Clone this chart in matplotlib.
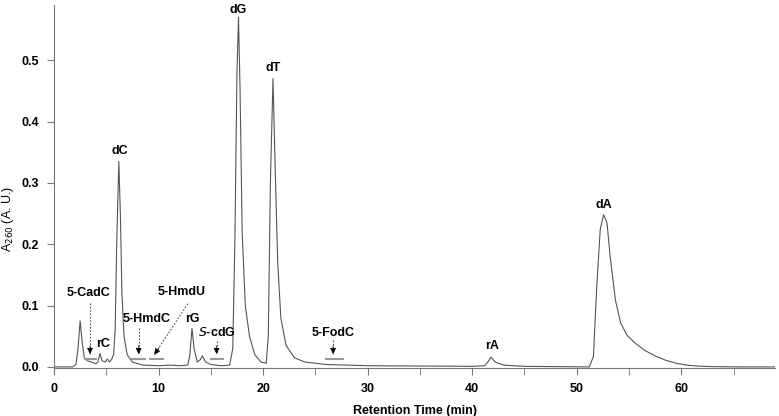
import matplotlib
matplotlib.use("Agg")
import matplotlib.pyplot as plt
from matplotlib.ticker import MultipleLocator

plt.rcParams['font.family'] = ['Liberation Sans', 'DejaVu Sans']

# chromatogram trace (time in min, A260)
time = [0, 1.8, 2.1, 2.3, 2.5, 2.7, 2.9, 3.2, 3.6, 4.0, 4.2, 4.4, 4.6, 4.9, 5.1,
        5.3, 5.5, 5.7, 5.85, 6.0, 6.2, 6.35, 6.5, 6.7, 7.0, 7.5, 8.5, 10, 11, 12,
        12.8, 13.0, 13.2, 13.4, 13.7, 14.0, 14.2, 14.5, 15, 16, 16.8, 17.1, 17.3,
        17.5, 17.65, 17.8, 18.0, 18.3, 18.7, 19.2, 19.8, 20.3, 20.5, 20.7, 20.95,
        21.15, 21.4, 21.7, 22.2, 23, 24, 26, 30, 40, 41.2, 41.5, 41.8, 42.2, 43,
        45, 51.2, 51.6, 51.9, 52.25, 52.57, 52.9, 53.2, 53.7, 54.2, 54.8, 55.5,
        56.5, 57.5, 58.5, 59.5, 60.5, 61.5, 63, 66, 69]
absorb = [0, 0, 0.004, 0.03, 0.075, 0.04, 0.015, 0.01, 0.008, 0.005, 0.008,
          0.022, 0.01, 0.008, 0.013, 0.008, 0.012, 0.02, 0.06, 0.2, 0.335, 0.25,
          0.12, 0.05, 0.02, 0.008, 0.003, 0.002, 0.003, 0.002, 0.003, 0.02, 0.063,
          0.03, 0.008, 0.012, 0.018, 0.008, 0.004, 0.002, 0.003, 0.03, 0.2, 0.48,
          0.57, 0.45, 0.22, 0.1, 0.05, 0.02, 0.008, 0.006, 0.05, 0.3, 0.47, 0.33,
          0.17, 0.08, 0.035, 0.015, 0.008, 0.004, 0.002, 0.001, 0.002, 0.008,
          0.016, 0.008, 0.003, 0.001, 0.0, 0.017, 0.126, 0.224, 0.248, 0.235,
          0.18, 0.109, 0.072, 0.052, 0.04, 0.027, 0.018, 0.011, 0.006, 0.003,
          0.0015, 0.0005, 0, 0]

# peak labels (baseline positions)
peak_names = ["dC", "dG", "dT", "dA", "rC", "rG", "rA"]
peak_x = [6.3, 17.6, 20.95, 52.6, 4.65, 13.25, 41.9]
peak_y = [0.347, 0.577, 0.482, 0.259, 0.0326, 0.0733, 0.0293]

# expected (absent) modified nucleosides: label, label pos, arrow start, arrow tip, bar span
mod_names = ["5-CadC", "5-HmdC", "5-HmdU", "$\\mathit{S}$-cdG", "5-FodC"]
mod_label_x = [3.3, 8.85, 12.2, 15.6, 26.75]
mod_label_y = [0.1156, 0.0733, 0.117, 0.0505, 0.0505]
arrow_start_x = [3.45, 8.1, 12.8, 15.55, 26.7]
arrow_start_y = [0.104, 0.064, 0.103, 0.043, 0.044]
arrow_tip_x = [3.45, 8.1, 9.6, 15.55, 26.7]
arrow_tip_y = [0.021, 0.021, 0.02, 0.021, 0.021]
bar_x0 = [2.97, 7.43, 9.19, 15.0, 26.0]
bar_x1 = [4.0, 8.7, 10.46, 16.2, 27.6]
bar_y = 0.0135

fig = plt.figure(figsize=(7.79, 4.16), dpi=100)
ax = fig.add_axes([0.0693, 0.115, 0.926, 0.873])

ax.plot(time, absorb, color='#555555', lw=0.8)

for name, x, y in zip(peak_names, peak_x, peak_y):
    ax.text(x, y, name, ha='center', va='baseline', fontsize=9, fontweight='bold')

for i, name in enumerate(mod_names):
    ax.text(mod_label_x[i], mod_label_y[i], name, ha='center', va='baseline',
            fontsize=9, fontweight='bold')
    ax.plot([arrow_start_x[i], arrow_tip_x[i]], [arrow_start_y[i], arrow_tip_y[i]],
            color='#555555', lw=0.8, ls=(0, (1.5, 1.5)))
    dx = arrow_start_x[i] - arrow_tip_x[i]
    off = (0, 6) if dx == 0 else (3.3, 5.0)
    ax.annotate('', xy=(arrow_tip_x[i], arrow_tip_y[i]), xytext=off,
                textcoords='offset points',
                arrowprops=dict(arrowstyle='-|>', color='black', lw=0.5,
                                mutation_scale=9, shrinkA=0, shrinkB=0))
    ax.plot([bar_x0[i], bar_x1[i]], [bar_y, bar_y], color='#999999', lw=1.5)

ax.set_xlim(0, 69)
ax.set_ylim(-0.002, 0.59)
ax.xaxis.set_major_locator(MultipleLocator(10))
ax.xaxis.set_minor_locator(MultipleLocator(5))
ax.yaxis.set_major_locator(MultipleLocator(0.1))
ax.yaxis.set_major_formatter(matplotlib.ticker.FormatStrFormatter('%.1f'))

for s in ['top', 'right']:
    ax.spines[s].set_visible(False)
for s in ['left', 'bottom']:
    ax.spines[s].set_color('#777777')
ax.tick_params(which='both', direction='out', length=5, color='#777777', labelsize=9)
ax.tick_params(axis='x', pad=6)
ax.tick_params(axis='y', pad=6)
for lab in ax.get_xticklabels() + ax.get_yticklabels():
    lab.set_fontweight('bold')

ax.set_xlabel('Retention Time (min)', fontsize=9, fontweight='bold', labelpad=7)
ax.set_ylabel('A$_{260}$ (A. U.)', fontsize=9)
ax.yaxis.set_label_coords(-0.053, 0.41)

fig.savefig('out.png', dpi=100)
